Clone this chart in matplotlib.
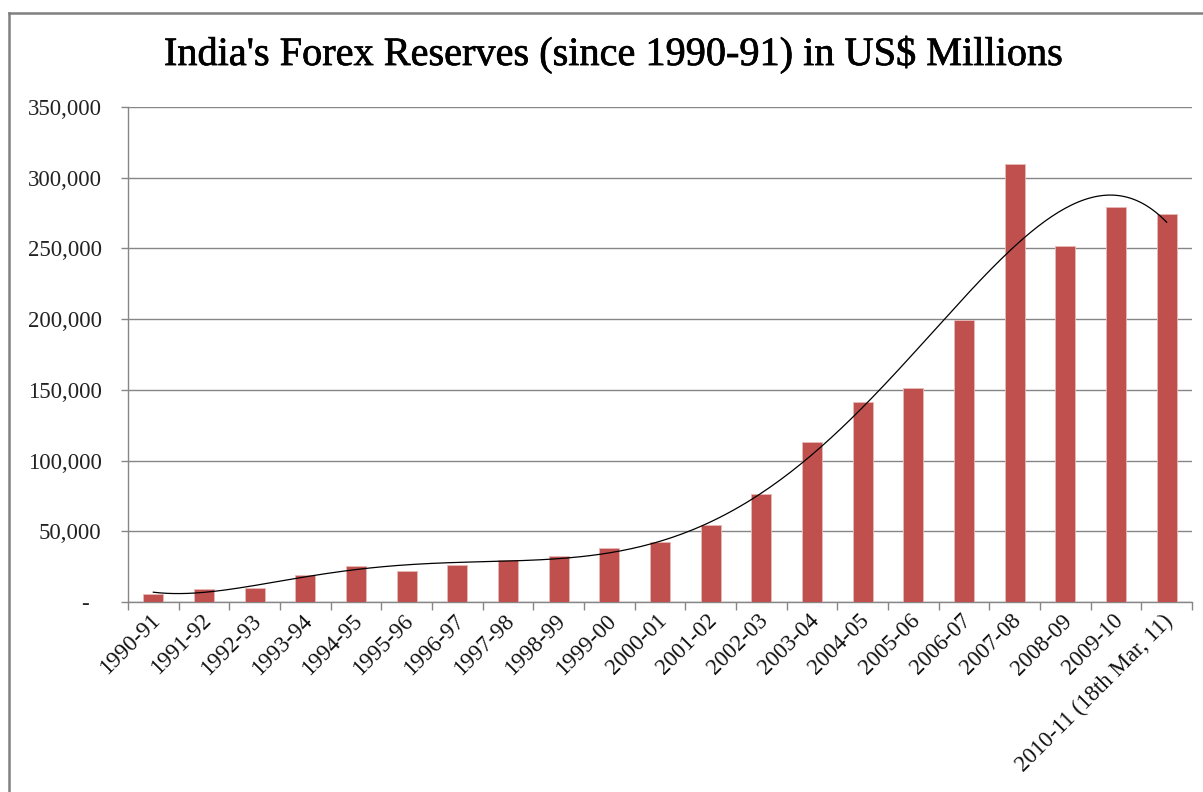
import matplotlib.pyplot as plt
import numpy as np
import matplotlib.patheffects as pe
from matplotlib.lines import Line2D
from matplotlib.ticker import FuncFormatter, FixedLocator
from matplotlib.transforms import ScaledTranslation

years = ["1990-91", "1991-92", "1992-93", "1993-94", "1994-95", "1995-96",
         "1996-97", "1997-98", "1998-99", "1999-00", "2000-01", "2001-02",
         "2002-03", "2003-04", "2004-05", "2005-06", "2006-07", "2007-08",
         "2008-09", "2009-10", "2010-11 (18th Mar, 11)"]
reserves = [5834, 9220, 9832, 19254, 25186, 21687, 26423, 29367, 32490,
            38036, 42281, 54106, 76100, 112959, 141514, 151622, 199179,
            309723, 251985, 279057, 274330]
yticks = [0, 50000, 100000, 150000, 200000, 250000, 300000, 350000]

plt.rcParams['font.family'] = ['Liberation Serif', 'DejaVu Serif']

fig = plt.figure(figsize=(12.03, 7.92), dpi=100)
ax = fig.add_axes([128/1203, (792-602)/792, (1192-128)/1203, (602-107)/792])

x = np.arange(len(years))
ax.bar(x, reserves, width=0.4, color='#C0504D', edgecolor='#E6B9B8',
       linewidth=0.6, zorder=3)

# polynomial trendline like the spreadsheet one
coef = np.polyfit(x + 1, reserves, 6)
xs = np.linspace(0, len(years) - 1, 300)
ax.plot(xs, np.polyval(coef, xs + 1), color='black', linewidth=0.9, zorder=4)

ax.set_xlim(-0.5, len(years) - 0.5)
ax.set_ylim(0, 350000)
ax.set_yticks(yticks)
ax.yaxis.set_major_formatter(FuncFormatter(
    lambda v, p: '-\u2007' if v == 0 else f'{int(v):,}'))
ax.yaxis.grid(True, color='#868686', linewidth=1.0, zorder=0)
ax.set_axisbelow(True)

ax.set_xticks(x)
ax.set_xticklabels(years, rotation=45, ha='right', va='top')
ax.xaxis.set_minor_locator(FixedLocator(np.arange(-0.5, len(years), 1.0)))
ax.tick_params(axis='x', which='major', length=0, pad=6, labelsize=16.5)
ax.tick_params(axis='x', which='minor', length=6, color='#868686', width=1)
ax.tick_params(axis='y', length=5, color='#868686', width=1, pad=14,
               labelsize=16.5, labelcolor='#222222')
shift = ScaledTranslation(11/100, 0, fig.dpi_scale_trans)
for lbl in ax.get_xticklabels():
    lbl.set_color('#111111')
    lbl.set_transform(lbl.get_transform() + shift)

for s in ['top', 'right']:
    ax.spines[s].set_visible(False)
for s in ['left', 'bottom']:
    ax.spines[s].set_color('#868686')
    ax.spines[s].set_linewidth(1.0)

title = fig.text(613/1203, 1 - 55/792, "India's Forex Reserves (since 1990-91) in US$ Millions",
                 ha='center', va='center', fontsize=29, color='black')
title.set_path_effects([pe.withStroke(linewidth=0.5, foreground='black')])

# chart border (cut by the crop on right and bottom)
fig.add_artist(Line2D([9/1203, 9/1203], [0, 1 - 13/792], transform=fig.transFigure,
                      color='#808080', linewidth=1.8))
fig.add_artist(Line2D([9/1203, 1], [1 - 13/792, 1 - 13/792], transform=fig.transFigure,
                      color='#808080', linewidth=1.8))

fig.savefig('out.png', dpi=100)
